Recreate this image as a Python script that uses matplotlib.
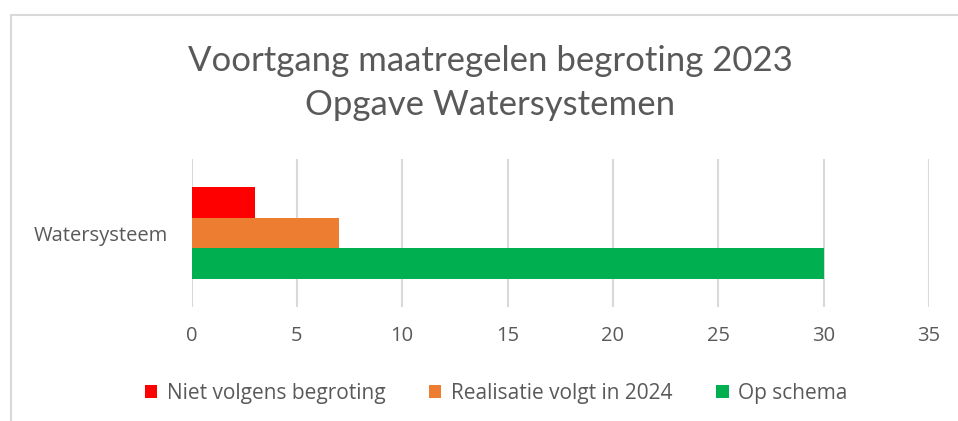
import matplotlib.pyplot as plt
from matplotlib.patches import Rectangle

categories = ['Watersysteem']
series_names = ['Niet volgens begroting', 'Realisatie volgt in 2024', 'Op schema']
series_values = [[3], [7], [30]]
series_colors = ['#FF0000', '#ED7D31', '#00B050']
x_ticks = [0, 5, 10, 15, 20, 25, 30, 35]
title_lines = ['Voortgang maatregelen begroting 2023', 'Opgave Watersystemen']

TEXT = '#595959'
GRID = '#d9d9d9'

fig = plt.figure(figsize=(9.58, 4.21), dpi=100)
ax = fig.add_axes([0.1999, 0.2708, 0.7698, 0.3515])

bar_h = 0.207
n = len(series_names)
for i, (name, vals, col) in enumerate(zip(series_names, series_values, series_colors)):
    offset = ((n - 1) / 2 - i) * bar_h
    ax.barh([k + offset for k in range(len(categories))], vals, height=bar_h,
            color=col, label=name, zorder=3)

ax.set_xlim(x_ticks[0], x_ticks[-1])
ax.set_ylim(-0.5, len(categories) - 0.5)
ax.set_xticks(x_ticks)
ax.set_yticks(range(len(categories)))
ax.set_yticklabels(categories)
ax.grid(axis='x', color=GRID, linewidth=1.5, zorder=0)
for s in ax.spines.values():
    s.set_visible(False)
ax.tick_params(axis='both', length=0, colors=TEXT, labelsize=14.5)
ax.tick_params(axis='x', pad=14)
ax.tick_params(axis='y', pad=17)
for lab in ax.get_xticklabels() + ax.get_yticklabels():
    lab.set_fontfamily('Open Sans')

fig.text(490 / 958, 1 - 71 / 421, title_lines[0], ha='center', va='baseline',
         fontsize=25, color=TEXT, fontfamily='Lato')
fig.text(490 / 958, 1 - 115 / 421, title_lines[1], ha='center', va='baseline',
         fontsize=25, color=TEXT, fontfamily='Lato')

fig.legend(loc='center', bbox_to_anchor=(496 / 958, 1 - 393 / 421), ncol=3,
           frameon=False, handlelength=0.6, handleheight=0.6, handletextpad=0.45,
           columnspacing=2.1, prop={'family': 'Open Sans', 'size': 15},
           labelcolor=TEXT)

fig.add_artist(Rectangle((11 / 958, -0.2), 1.5, 1 - 15 / 421 + 0.2,
                         transform=fig.transFigure, fill=False,
                         edgecolor=GRID, linewidth=1.5, clip_on=False))

fig.savefig('out.png', dpi=100)
